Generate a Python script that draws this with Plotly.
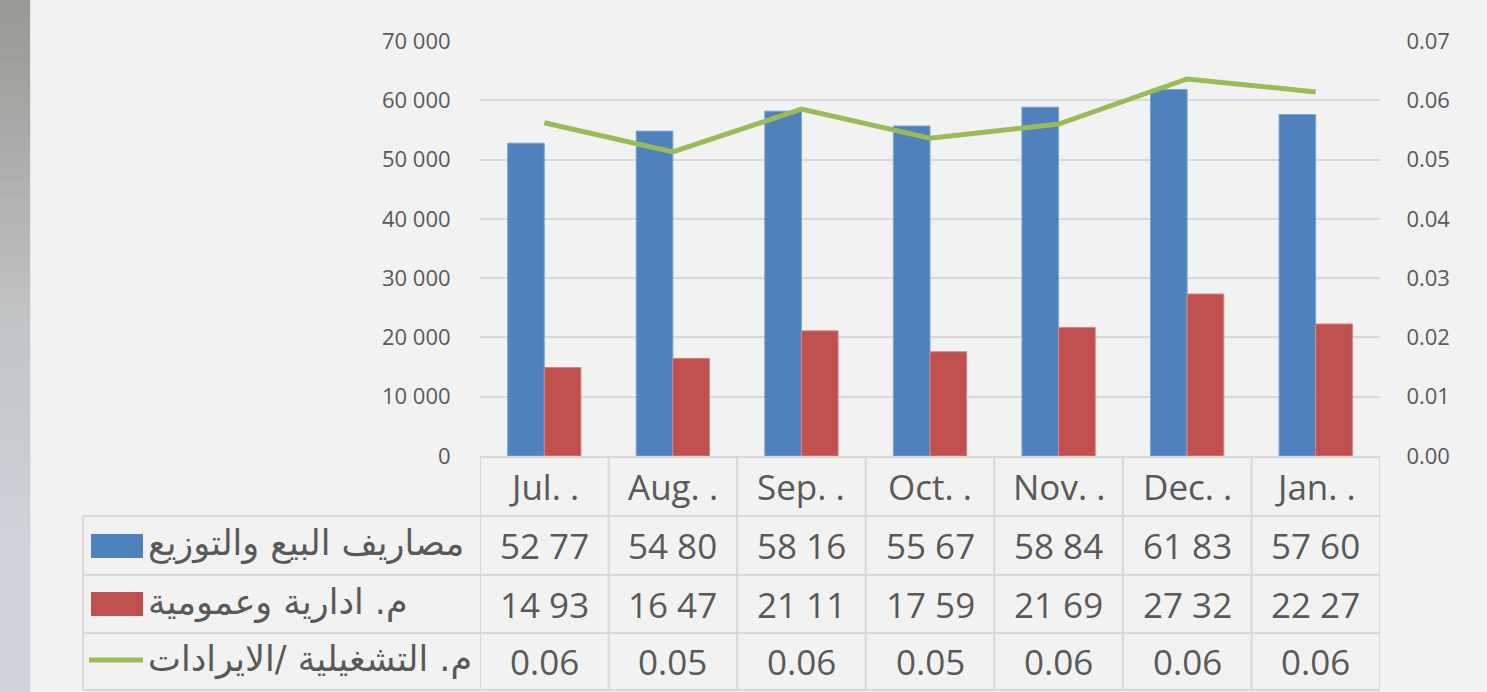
import plotly.graph_objects as go

# ---------------- data ----------------
months = ["Jul. .", "Aug. .", "Sep. .", "Oct. .", "Nov. .", "Dec. .", "Jan. ."]
sales_dist = [52770, 54800, 58160, 55670, 58840, 61830, 57600]
admin_general = [14930, 16470, 21110, 17590, 21690, 27320, 22270]
op_ratio = [0.0562, 0.0513, 0.0585, 0.0536, 0.0560, 0.0636, 0.0614]

name_sales = "مصاريف البيع والتوزيع"
name_admin = "م. ادارية وعمومية"
name_ratio = "م. التشغيلية /الايرادات"

# ---------------- style ----------------
W, H = 1487, 692
BLUE, RED, GREEN = "#4f81bd", "#c0504d", "#9bbb59"
TXT = "#595959"
GRID = "#d9d9d9"
FONT = "Open Sans, DejaVu Sans, sans-serif"

def py(p):  # pixel row -> paper y
    return (H - p) / H

def px(p):  # pixel col -> paper x
    return p / W

x_left, x_right = 480, 1380
y_top, y_axis = 41, 456
rows = [456, 516, 575, 633, 690]

fig = go.Figure()

fig.add_trace(go.Bar(x=months, y=sales_dist, name=name_sales,
                     marker=dict(color=BLUE, line=dict(color="#7ea3d4", width=1)),
                     showlegend=False))
fig.add_trace(go.Bar(x=months, y=admin_general, name=name_admin,
                     marker=dict(color=RED, line=dict(color="#d68482", width=1)),
                     showlegend=False))
fig.add_trace(go.Scatter(x=months, y=op_ratio, name=name_ratio, yaxis="y2",
                         mode="lines", line=dict(color=GREEN, width=5),
                         showlegend=False))

shapes = []
# left decorative gradient strip (top -> bottom)
top_rgb = (0x9a, 0x9a, 0x94)
mid_rgb = (0xc0, 0xc3, 0xc4)
bot_rgb = (0xcf, 0xd3, 0xdb)
nstep = 46
for i in range(nstep):
    t = i / (nstep - 1)
    if t < 0.45:
        a, b, u = top_rgb, mid_rgb, t / 0.45
    else:
        a, b, u = mid_rgb, bot_rgb, min(1.0, (t - 0.45) / 0.35)
    c = tuple(round(a[k] + (b[k] - a[k]) * u) for k in range(3))
    shapes.append(dict(type="rect", xref="paper", yref="paper",
                       x0=0, x1=px(30), y0=py(H * (i + 1) / nstep + 1), y1=py(H * i / nstep),
                       fillcolor="rgb(%d,%d,%d)" % c, line=dict(width=0), layer="below"))
shapes.append(dict(type="line", xref="paper", yref="paper", x0=px(30.5), x1=px(30.5),
                   y0=0, y1=1, line=dict(color="#e4e6ea", width=1)))

# table horizontal lines
for r in rows[1:]:
    shapes.append(dict(type="line", xref="paper", yref="paper", x0=px(83), x1=px(x_right),
                       y0=py(r), y1=py(r), line=dict(color=GRID, width=2)))
# table vertical lines
shapes.append(dict(type="line", xref="paper", yref="paper", x0=px(83), x1=px(83),
                   y0=py(rows[1]), y1=py(rows[-1]), line=dict(color=GRID, width=2)))
for i in range(len(months) + 1):
    shapes.append(dict(type="line", xref="x", yref="paper", x0=i - 0.5, x1=i - 0.5,
                       y0=py(rows[0]), y1=py(rows[-1]), line=dict(color=GRID, width=2)))

# legend keys
shapes.append(dict(type="rect", xref="paper", yref="paper", x0=px(91), x1=px(143),
                   y0=py(558), y1=py(534), fillcolor=BLUE, line=dict(width=0)))
shapes.append(dict(type="rect", xref="paper", yref="paper", x0=px(91), x1=px(143),
                   y0=py(616), y1=py(592), fillcolor=RED, line=dict(width=0)))
shapes.append(dict(type="line", xref="paper", yref="paper", x0=px(89), x1=px(143),
                   y0=py(660), y1=py(660), line=dict(color=GREEN, width=5)))

annotations = []
row_centers = [(rows[i] + rows[i + 1]) / 2 for i in range(len(rows) - 1)]
# month header
for m in months:
    annotations.append(dict(x=m, y=py(row_centers[0]), xref="x", yref="paper",
                            text=m, showarrow=False, xanchor="center", yanchor="middle",
                            font=dict(family=FONT, size=35, color=TXT)))
row_text = [
    [f"{v // 1000} {(v % 1000) // 10:02d}" for v in sales_dist],
    [f"{v // 1000} {(v % 1000) // 10:02d}" for v in admin_general],
    [f"{v:.2f}" for v in op_ratio],
]
for ri, texts in enumerate(row_text):
    for m, t in zip(months, texts):
        annotations.append(dict(x=m, y=py(row_centers[ri + 1]), xref="x", yref="paper",
                                text=t, showarrow=False, xanchor="center", yanchor="middle",
                                font=dict(family=FONT, size=35, color=TXT)))
for ri, nm in enumerate([name_sales, name_admin, name_ratio]):
    annotations.append(dict(x=px(146), y=py(row_centers[ri + 1] - 2), xref="paper", yref="paper",
                            text=nm, showarrow=False, xanchor="left", yanchor="middle",
                            font=dict(family="DejaVu Sans, sans-serif", size=35, color=TXT)))

fig.update_layout(
    template="none",
    width=W, height=H,
    margin=dict(l=0, r=0, t=0, b=0, pad=0),
    paper_bgcolor="#f2f2f2", plot_bgcolor="#f2f2f2",
    separators=". ",
    showlegend=False,
    barmode="group", bargap=0.43, bargroupgap=0,
    xaxis=dict(domain=[px(x_left), px(x_right)], showticklabels=False, ticks="",
               showline=True, linecolor=GRID, linewidth=2, showgrid=False, automargin=False,
               range=[-0.5, len(months) - 0.5]),
    yaxis=dict(domain=[py(y_axis), py(y_top)], range=[0, 70000], dtick=10000,
               tickformat=",d", showgrid=True, gridcolor=GRID, gridwidth=2, automargin=False,
               zeroline=False, ticks="outside", ticklen=24, tickcolor="rgba(0,0,0,0)",
               tickfont=dict(family=FONT, size=22, color=TXT), showline=False),
    yaxis2=dict(overlaying="y", side="right", range=[0, 0.07], dtick=0.01, automargin=False,
                tickformat=".2f", showgrid=False, zeroline=False,
                ticks="outside", ticklen=21, tickcolor="rgba(0,0,0,0)",
                tickfont=dict(family=FONT, size=22, color=TXT), showline=False),
    shapes=shapes, annotations=annotations,
)

fig.write_html("out.html", config={"displayModeBar": False},
               post_script="document.body.style.margin='0';")
